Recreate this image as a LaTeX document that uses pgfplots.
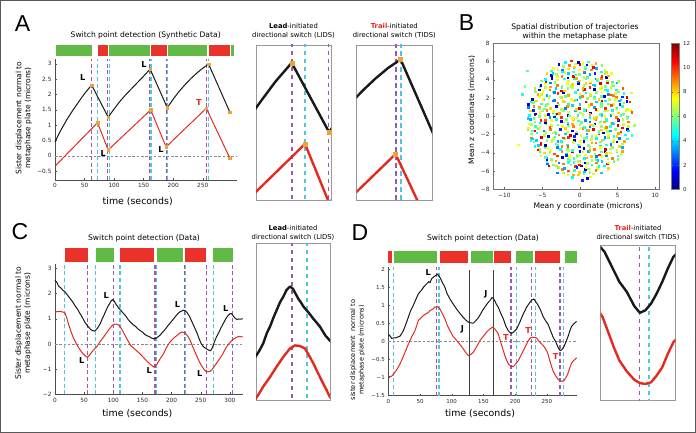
\documentclass[border=0pt]{standalone}
\usepackage{fontspec}
\setmainfont{DejaVu Sans}
\newfontfamily\letterfont{Liberation Sans}
\usepackage{pgfplots}
\usepackage{pgfplotstable}
\pgfplotsset{compat=1.18}
\pgfkeys{/pgf/number format/assume math mode=true}

\definecolor{barG}{RGB}{98,186,70}
\definecolor{barR}{RGB}{234,50,42}
\definecolor{lnR}{RGB}{228,42,32}
\definecolor{lnK}{RGB}{25,25,25}
\definecolor{dPur}{RGB}{150,92,170}
\definecolor{dCya}{RGB}{86,196,216}
\definecolor{mOra}{RGB}{242,162,52}

\newcommand{\fs}[1]{\fontsize{#1}{#1}\selectfont}
\newcommand{\vmark}[4]{\addplot[#1] coordinates {(#2,#3) (#2,#4)};}
\newcommand{\band}[5]{\fill[#1] (axis cs:#2,#4) rectangle (axis cs:#3,#5);}

\pgfplotsset{
  mainax/.style={scale only axis, anchor=south west, axis lines*=left, clip=false,
    axis line style={black!70, line width=0.45pt},
    tick align=inside, major tick length=2pt, tick style={black!70, line width=0.4pt},
    tick label style={font=\fs{5.8}, text=black!85}},
  zoomax/.style={scale only axis, anchor=south west, clip=true, ticks=none,
    axis line style={black!40, line width=0.6pt}},
  dsh/.style={line width=1.1pt, dash pattern=on 4pt off 2.6pt, mark=none},
  zdsh/.style={line width=1.9pt, dash pattern=on 4.6pt off 3.4pt, mark=none},
  thinK/.style={lnK, line width=1pt, mark=none},
  thinR/.style={lnR, line width=1pt, mark=none},
  thickK/.style={lnK, line width=2.4pt, mark=none, line join=round},
  thickR/.style={lnR, line width=2.4pt, mark=none, line join=round},
  zero/.style={black!45, line width=0.5pt, dash pattern=on 2.5pt off 1.8pt, mark=none},
  omk/.style={only marks, mark=square*, mark size=1.3pt, mark options={draw=mOra, fill=mOra}},
}

% panel A, synthetic sisters
\pgfplotstableread{
x y
0 0.46
10 0.84
20 1.18
30 1.48
40 1.76
50 2.03
62 2.31
90 1.26
100 1.53
110 1.78
120 2.0
130 2.2
140 2.4
150 2.6
161 2.83
190 1.57
200 1.85
210 2.1
220 2.32
230 2.52
240 2.7
250 2.86
260 2.99
296 1.42
}\Ablack
\pgfplotstableread{
x y
0 -0.34
72 1.08
90 0.19
162 1.5
188 0.29
256 1.55
296 -0.08
}\Ared
\pgfplotstableread{
x y
62 2.31
90 1.26
161 2.83
190 1.57
260 2.99
296 1.42
72 1.08
90 0.19
162 1.5
188 0.29
256 1.55
296 -0.08
}\Amarks

% panel C, data
\pgfplotstableread{
x y
0 2.53
3 2.45
6 2.3
10 2.22
14 2.12
17 2.07
21 1.95
26 1.8
30 1.68
34 1.53
38 1.4
43 1.2
47 1.05
51 0.87
55 0.74
60 0.6
64 0.53
68 0.51
72 0.6
75 0.7
78 0.82
81 1.0
83.3 1.1
86 1.25
88.4 1.37
91 1.5
93.5 1.59
96 1.7
98.7 1.76
101 1.72
103 1.64
105 1.56
107 1.5
109 1.43
111 1.38
113 1.33
116.6 1.23
119 1.17
121.7 1.1
124 1.02
126 0.95
129.4 0.87
134 0.76
138 0.7
142 0.6
146 0.53
150 0.47
154 0.38
157 0.33
161 0.3
165 0.24
169 0.2
172 0.22
175 0.25
179 0.32
183 0.42
188 0.55
194 0.73
200 0.9
206 1.07
210 1.18
214 1.27
217 1.3
220 1.34
223 1.32
226 1.26
230 1.12
234 0.93
238 0.72
243 0.47
247 0.22
251 0.0
255 -0.12
260 -0.2
264 -0.25
267 -0.27
270 -0.15
273 0.05
277 0.28
281 0.45
285 0.65
289 0.82
293 1.0
297 1.13
300 1.2
303 1.2
306 1.1
309 1.02
312 0.97
315 0.99
318 0.98
322 1.0
}\Cblack
\pgfplotstableread{
x y
0 1.27
4 1.28
8.6 1.29
13 1.27
17 1.23
20 1.05
23 0.8
27 0.52
31 0.27
35 0.08
40 -0.13
44 -0.27
48.6 -0.4
52 -0.48
55.5 -0.53
59 -0.45
63 -0.33
67 -0.22
71.5 -0.11
75 0.0
78 0.11
83.3 0.27
88.4 0.44
93.5 0.6
98.7 0.74
102.5 0.79
106.3 0.78
110.2 0.74
114 0.6
117 0.48
119.2 0.38
122 0.26
124.3 0.16
127 0.05
129.4 -0.06
134 -0.15
140 -0.27
146 -0.4
151 -0.52
157 -0.67
163 -0.8
169 -0.91
172 -0.88
175 -0.8
180 -0.6
186 -0.4
191 -0.15
197 0.07
203 0.22
209 0.33
214 0.43
218 0.47
223 0.44
228 0.3
232 0.13
237 -0.15
243 -0.47
247 -0.68
251.5 -0.87
256 -1.02
260 -1.11
266 -1.09
270 -1.0
274 -0.87
280 -0.67
286 -0.47
290 -0.3
294 -0.13
298 0.0
303 0.13
307 0.2
312 0.27
317 0.3
322 0.27
}\Cred

% panel D, data
\pgfplotstableread{
x y
0 0.21
3 0.15
5.3 0.09
8 0.1
10.5 0.1
14 0.12
18.4 0.15
21 0.22
23.7 0.3
27 0.45
31.5 0.67
35 0.85
39.4 1.0
43 1.15
47.3 1.32
50 1.38
52.6 1.43
56 1.52
60.4 1.6
64 1.66
66 1.64
68.3 1.74
72 1.8
75 1.84
77.3 1.87
79 1.84
81.5 1.78
85 1.65
89.4 1.5
93 1.32
97.3 1.18
102 1.05
107.8 0.9
113 0.78
118.3 0.67
122 0.6
126.2 0.54
130 0.52
134 0.51
138 0.58
142 0.66
146 0.78
150 0.9
154 1.0
157.7 1.09
161 1.15
163.5 1.22
165.6 1.2
168 1.13
170 1.05
173.5 0.95
177 0.8
181.4 0.63
185 0.45
189.3 0.3
192 0.25
194.5 0.23
198 0.27
202.4 0.35
207 0.52
213 0.77
218 0.95
223.4 1.09
226 1.15
229.8 1.18
232 1.12
236.6 1.0
240 0.88
244 0.7
248 0.58
252 0.48
256 0.3
260 0.12
264 0.0
268 -0.17
271 -0.25
274 -0.22
277 -0.14
280 -0.02
283 0.12
286 0.28
289 0.42
293 0.5
297 0.56
}\Dblack
\pgfplotstableread{
x y
0 -0.97
3 -0.97
5.3 -0.96
8 -0.9
10.5 -0.85
14 -0.76
18.4 -0.62
22 -0.48
26.3 -0.3
30 -0.14
34.2 0.03
38 0.17
42 0.3
45 0.45
47.3 0.58
51 0.65
55.2 0.72
60 0.78
63 0.8
65.7 0.86
70 0.9
73 0.95
76.2 0.97
79 0.95
81.5 0.9
85 0.78
89.4 0.63
93 0.45
97.3 0.3
102 0.15
107.8 0.03
113 -0.08
118.3 -0.2
122 -0.3
126.2 -0.39
130 -0.36
134 -0.3
139 -0.15
144.6 0.03
150 0.15
155 0.26
160 0.35
164.6 0.4
168 0.35
171 0.28
173.5 0.21
177 0.0
181.4 -0.25
185 -0.45
189.3 -0.62
193 -0.68
197.2 -0.69
201 -0.62
205 -0.53
210 -0.35
215.6 -0.16
220 0.0
223 0.08
226 0.12
230 0.12
234 0.1
238 0.0
241 -0.05
244 -0.1
248 -0.2
251 -0.3
254 -0.48
257 -0.66
260 -0.82
264 -0.95
268 -1.05
271 -1.09
274 -1.1
277 -1.08
280 -1.0
283 -0.9
286 -0.74
289 -0.6
292 -0.53
297 -0.45
}\Dred

\begin{document}
\begin{tikzpicture}
\path[use as bounding box] (0,0) rectangle (696pt,433pt);
\draw[black!65, line width=1.4pt] (0.7pt,0.7pt) rectangle (695.3pt,432.3pt);

% ---------------- A main
\begin{axis}[mainax, at={(55pt,253pt)}, width=182pt, height=120.7pt,
  xmin=0, xmax=308, ymin=-0.79, ymax=3.15,
  xtick={0,50,...,250}, ytick={-0.5,0,...,3},
  yticklabels={−0.5,0,0.5,1,1.5,2,2.5,3}]
\band{barG}{1}{62}{3.26}{3.62}
\band{barR}{72}{90}{3.26}{3.62}
\band{barG}{92}{161}{3.26}{3.62}
\band{barR}{163}{189}{3.26}{3.62}
\band{barG}{191}{257.5}{3.26}{3.62}
\band{barR}{260}{296}{3.26}{3.62}
\band{barG}{298}{303}{3.26}{3.62}
\addplot[zero] coordinates {(0,0) (308,0)};
\vmark{dsh,dPur}{62}{-0.79}{3.15}
\vmark{dsh,dCya}{72}{-0.79}{3.15}
\vmark{dsh,dPur}{89}{-0.79}{3.15}
\vmark{dsh,dCya}{91.5}{-0.79}{3.15}
\vmark{dsh,dPur}{160}{-0.79}{3.15}
\vmark{dsh,dCya}{162.5}{-0.79}{3.15}
\vmark{dsh,dPur}{188}{-0.79}{3.15}
\vmark{dsh,dCya}{190.5}{-0.79}{3.15}
\vmark{dsh,dPur}{256}{-0.79}{3.15}
\vmark{dsh,dCya}{260}{-0.79}{3.15}
\addplot[thinK] table[x=x,y=y] {\Ablack};
\addplot[thinR] table[x=x,y=y] {\Ared};
\addplot[omk] table[x=x,y=y] {\Amarks};
\node[font=\bfseries\fs{8.2}] at (axis cs:46.8,2.55) {L};
\node[font=\bfseries\fs{8.2}] at (axis cs:81.8,0.08) {L};
\node[font=\bfseries\fs{8.2}] at (axis cs:150.6,2.99) {L};
\node[font=\bfseries\fs{8.2}] at (axis cs:179.4,0.22) {L};
\node[font=\bfseries\fs{8.2}, text=lnR] at (axis cs:243.7,1.73) {T};
\end{axis}

% A, LIDS zoom
\begin{axis}[zoomax, at={(256pt,233pt)}, width=75pt, height=155pt,
  xmin=35.2, xmax=91.5, ymin=0.23, ymax=2.58]
\vmark{zdsh,dPur}{62}{0}{3}
\vmark{zdsh,dCya}{72}{0}{3}
\vmark{zdsh,dPur}{89.6}{0}{3}
\addplot[thickK] table[x=x,y=y] {\Ablack};
\addplot[thickR] table[x=x,y=y] {\Ared};
\addplot[omk, mark size=2pt] table[x=x,y=y] {\Amarks};
\end{axis}

% A, TIDS zoom
\begin{axis}[zoomax, at={(356.7pt,233pt)}, width=75.3pt, height=155pt,
  xmin=225, xmax=285, ymin=0.85, ymax=3.21]
\vmark{zdsh,dPur}{256}{0}{4}
\vmark{zdsh,dCya}{260}{0}{4}
\addplot[thickK] table[x=x,y=y] {\Ablack};
\addplot[thickR] table[x=x,y=y] {\Ared};
\addplot[omk, mark size=2pt] table[x=x,y=y] {\Amarks};
\end{axis}

% ---------------- B scatter
\begin{axis}[scale only axis, anchor=south west, at={(493pt,243.7pt)},
  width=166pt, height=146pt,
  xmin=-11.5, xmax=10.5, ymin=-8, ymax=8,
  xtick={-10,-5,0,5,10}, xticklabels={−10,−5,0,5,10},
  ytick={-8,-6,...,8}, yticklabels={−8,−6,−4,−2,0,2,4,6,8},
  tick align=inside, major tick length=2pt, xtick pos=bottom, ytick pos=left,
  axis line style={black!55, line width=0.5pt}, tick style={black!60},
  tick label style={font=\fs{5.8}, text=black!85},
  colormap/jet, point meta min=0, point meta max=12,
  colorbar,
  colorbar style={at={(parent axis.north east)}, anchor=north west, xshift=4pt,
    width=8pt, ytick={0,2,...,12}, major tick length=1.5pt,
    yticklabel style={font=\fs{5.5}, text=black!85},
    axis line style={black!50}}]
\addplot[scatter, only marks, mark=square*, mark size=0.8pt, point meta=explicit,
  scatter/use mapped color={draw=mapped color, fill=mapped color}] coordinates {
(-1.6,-6.4)[7] (-1.0,-6.7)[4.5] (-0.2,-6.4)[8] (0.5,-6.3)[5.5] (1.4,-6.6)[7.5]
(-3.0,-6.2)[3] (-2.3,-5.8)[9] (-1.6,-6.0)[6] (-0.7,-5.9)[5] (-0.1,-6.1)[8] (0.7,-5.8)[1] (1.3,-6.1)[6.5] (2.1,-5.9)[9] (2.8,-6.2)[4]
(-4.1,-5.4)[11] (-3.5,-5.3)[6] (-2.8,-5.6)[7] (-2.1,-5.7)[3.5] (-1.2,-5.3)[6] (-0.6,-5.5)[10] (0.2,-5.4)[0.5] (0.8,-5.6)[7.5] (1.6,-5.3)[5] (2.3,-5.6)[7] (3.2,-5.4)[4.5] (3.8,-5.7)[8]
(-4.4,-4.9)[5.5] (-3.7,-4.8)[7.5] (-2.8,-5.1)[3] (-2.2,-5.2)[9] (-1.4,-4.8)[6] (-0.8,-5.0)[5] (0.0,-4.9)[8] (0.7,-5.1)[1] (1.6,-4.8)[6.5] (2.2,-5.1)[9] (2.9,-4.9)[4] (3.6,-5.2)[11] (4.5,-4.9)[6]
(-5.2,-4.3)[7] (-4.4,-4.6)[3.5] (-3.8,-4.7)[6] (-3.0,-4.3)[10] (-2.3,-4.5)[0.5] (-1.4,-4.4)[7.5] (-0.8,-4.6)[5] (-0.1,-4.3)[7] (0.6,-4.6)[4.5] (1.5,-4.4)[8] (2.1,-4.7)[5.5] (2.9,-4.4)[7.5] (3.5,-4.3)[3] (4.3,-4.6)[9] (5.0,-4.7)[6]
(-5.3,-3.8)[5] (-4.7,-4.0)[8] (-4.0,-3.9)[1] (-3.3,-4.1)[6.5] (-2.4,-3.8)[9] (-1.8,-4.1)[4] (-1.0,-3.9)[11] (-0.4,-4.2)[6] (0.4,-3.9)[7] (1.1,-3.8)[3.5] (2.0,-4.1)[6] (2.6,-4.2)[10] (3.3,-3.8)[0.5] (4.0,-4.0)[7.5] (4.9,-3.9)[5] (5.5,-4.1)[7]
(-6.0,-3.3)[4.5] (-5.4,-3.6)[8] (-4.6,-3.4)[5.5] (-3.9,-3.7)[7.5] (-3.0,-3.4)[3] (-2.4,-3.3)[9] (-1.7,-3.6)[6] (-1.0,-3.7)[5] (-0.1,-3.3)[8] (0.5,-3.5)[1] (1.3,-3.4)[6.5] (1.9,-3.6)[9] (2.7,-3.3)[4] (3.4,-3.6)[11] (4.3,-3.4)[6] (4.9,-3.7)[7] (5.6,-3.4)[3.5]
(-6.1,-2.8)[6] (-5.2,-3.1)[10] (-4.6,-3.2)[0.5] (-3.8,-2.8)[7.5] (-3.2,-3.0)[5] (-2.4,-2.9)[7] (-1.7,-3.1)[4.5] (-0.8,-2.8)[8] (-0.2,-3.1)[5.5] (0.5,-2.9)[7.5] (1.2,-3.2)[3] (2.1,-2.9)[9] (2.7,-2.8)[6] (3.5,-3.1)[5] (4.1,-3.2)[8] (4.9,-2.8)[1] (5.6,-3.0)[6.5]
(-6.4,-2.4)[9] (-5.8,-2.6)[4] (-5.1,-2.3)[11] (-4.4,-2.6)[6] (-3.5,-2.4)[7] (-2.9,-2.7)[3.5] (-2.1,-2.4)[6] (-1.5,-2.3)[10] (-0.7,-2.6)[0.5] (0.0,-2.7)[7.5] (0.9,-2.3)[5] (1.5,-2.5)[7] (2.2,-2.4)[4.5] (2.9,-2.6)[8] (3.8,-2.3)[5.5] (4.4,-2.6)[7.5] (5.2,-2.4)[3] (5.8,-2.7)[9]
(-6.4,-1.9)[6] (-5.7,-1.8)[5] (-4.8,-2.1)[8] (-4.2,-2.2)[1] (-3.5,-1.8)[6.5] (-2.8,-2.0)[9] (-1.9,-1.9)[4] (-1.3,-2.1)[11] (-0.5,-1.8)[6] (0.1,-2.1)[7] (0.9,-1.9)[3.5] (1.6,-2.2)[6] (2.5,-1.9)[10] (3.1,-1.8)[0.5] (3.8,-2.1)[7.5] (4.5,-2.2)[5] (5.4,-1.8)[7] (6.0,-2.0)[4.5]
(-6.9,-1.4)[8] (-6.3,-1.6)[5.5] (-5.5,-1.3)[7.5] (-4.8,-1.6)[3] (-3.9,-1.4)[9] (-3.3,-1.7)[6] (-2.6,-1.4)[5] (-1.9,-1.3)[8] (-1.0,-1.6)[1] (-0.4,-1.7)[6.5] (0.4,-1.3)[9] (1.0,-1.5)[4] (1.8,-1.4)[11] (2.5,-1.6)[6] (3.4,-1.3)[7] (4.0,-1.6)[3.5] (4.7,-1.4)[6] (5.4,-1.7)[10] (6.3,-1.4)[0.5]
(-6.7,-0.8)[7.5] (-5.9,-1.1)[5] (-5.3,-1.2)[7] (-4.5,-0.8)[4.5] (-3.8,-1.0)[8] (-2.9,-0.9)[5.5] (-2.3,-1.1)[7.5] (-1.6,-0.8)[3] (-0.9,-1.1)[9] (0.0,-0.9)[6] (0.6,-1.2)[5] (1.4,-0.9)[8] (2.0,-0.8)[1] (2.8,-1.1)[6.5] (3.5,-1.2)[9] (4.4,-0.8)[4] (5.0,-1.0)[11] (5.7,-0.9)[6] (6.4,-1.1)[7]
(-6.6,-0.3)[3.5] (-6.0,-0.6)[6] (-5.2,-0.4)[10] (-4.6,-0.7)[0.5] (-3.8,-0.4)[7.5] (-3.1,-0.3)[5] (-2.2,-0.6)[7] (-1.6,-0.7)[4.5] (-0.9,-0.3)[8] (-0.2,-0.5)[5.5] (0.7,-0.4)[7.5] (1.3,-0.6)[3] (2.1,-0.3)[9] (2.7,-0.6)[6] (3.5,-0.4)[5] (4.2,-0.7)[8] (5.1,-0.4)[1] (5.7,-0.3)[6.5] (6.4,-0.6)[9]
(-6.9,-0.2)[4] (-6.0,0.2)[11] (-5.4,0.0)[6] (-4.6,0.1)[7] (-4.0,-0.1)[3.5] (-3.2,0.2)[6] (-2.5,-0.1)[10] (-1.6,0.1)[0.5] (-1.0,-0.2)[7.5] (-0.3,0.1)[5] (0.4,0.2)[7] (1.3,-0.1)[4.5] (1.9,-0.2)[8] (2.7,0.2)[5.5] (3.3,0.0)[7.5] (4.1,0.1)[3] (4.8,-0.1)[9] (5.7,0.2)[6] (6.3,-0.1)[5]
(-6.6,0.6)[8] (-5.9,0.3)[1] (-5.0,0.6)[6.5] (-4.4,0.7)[9] (-3.6,0.4)[4] (-3.0,0.3)[11] (-2.2,0.7)[6] (-1.5,0.5)[7] (-0.6,0.6)[3.5] (0.0,0.4)[6] (0.7,0.7)[10] (1.4,0.4)[0.5] (2.3,0.6)[7.5] (2.9,0.3)[5] (3.7,0.6)[7] (4.3,0.7)[4.5] (5.1,0.4)[8] (5.8,0.3)[5.5] (6.7,0.7)[7.5]
(-6.8,1.0)[3] (-6.1,1.1)[9] (-5.4,0.9)[6] (-4.5,1.2)[5] (-3.9,0.9)[8] (-3.1,1.1)[1] (-2.5,0.8)[6.5] (-1.7,1.1)[9] (-1.0,1.2)[4] (-0.1,0.9)[11] (0.5,0.8)[6] (1.2,1.2)[7] (1.9,1.0)[3.5] (2.8,1.1)[6] (3.4,0.9)[10] (4.2,1.2)[0.5] (4.8,0.9)[7.5] (5.6,1.1)[5] (6.3,0.8)[7]
(-6.4,1.6)[4.5] (-5.8,1.7)[8] (-5.1,1.4)[5.5] (-4.4,1.3)[7.5] (-3.5,1.7)[3] (-2.9,1.5)[9] (-2.1,1.6)[6] (-1.5,1.4)[5] (-0.7,1.7)[8] (0.0,1.4)[1] (0.9,1.6)[6.5] (1.5,1.3)[9] (2.2,1.6)[4] (2.9,1.7)[11] (3.8,1.4)[6] (4.4,1.3)[7] (5.2,1.7)[3.5] (5.8,1.5)[6] (6.6,1.6)[10]
(-6.3,1.9)[0.5] (-5.4,2.2)[7.5] (-4.8,1.9)[5] (-4.1,2.1)[7] (-3.4,1.8)[4.5] (-2.5,2.1)[8] (-1.9,2.2)[5.5] (-1.1,1.9)[7.5] (-0.5,1.8)[3] (0.3,2.2)[9] (1.0,2.0)[6] (1.9,2.1)[5] (2.5,1.9)[8] (3.2,2.2)[1] (3.9,1.9)[6.5] (4.8,2.1)[9] (5.4,1.8)[4] (6.2,2.1)[11]
(-5.9,2.7)[6] (-5.1,2.4)[7] (-4.4,2.3)[3.5] (-3.5,2.7)[6] (-2.9,2.5)[10] (-2.2,2.6)[0.5] (-1.5,2.4)[7.5] (-0.6,2.7)[5] (0.0,2.4)[7] (0.8,2.6)[4.5] (1.4,2.3)[8] (2.2,2.6)[5.5] (2.9,2.7)[7.5] (3.8,2.4)[3] (4.4,2.3)[9] (5.1,2.7)[6] (5.8,2.5)[5]
(-6.0,3.1)[8] (-5.4,2.9)[1] (-4.6,3.2)[6.5] (-4.0,2.9)[9] (-3.2,3.1)[4] (-2.5,2.8)[11] (-1.6,3.1)[6] (-1.0,3.2)[7] (-0.3,2.9)[3.5] (0.4,2.8)[6] (1.3,3.2)[10] (1.9,3.0)[0.5] (2.7,3.1)[7.5] (3.3,2.9)[5] (4.1,3.2)[7] (4.8,2.9)[4.5] (5.7,3.1)[8]
(-5.3,3.3)[5.5] (-4.6,3.6)[7.5] (-3.9,3.7)[3] (-3.0,3.4)[9] (-2.4,3.3)[6] (-1.6,3.7)[5] (-1.0,3.5)[8] (-0.2,3.6)[1] (0.5,3.4)[6.5] (1.4,3.7)[9] (2.0,3.4)[4] (2.7,3.6)[11] (3.4,3.3)[6] (4.3,3.6)[7] (4.9,3.7)[3.5]
(-5.1,3.9)[6] (-4.5,3.8)[10] (-3.7,4.2)[0.5] (-3.0,4.0)[7.5] (-2.1,4.1)[5] (-1.5,3.9)[7] (-0.8,4.2)[4.5] (-0.1,3.9)[8] (0.8,4.1)[5.5] (1.4,3.8)[7.5] (2.2,4.1)[3] (2.8,4.2)[9] (3.6,3.9)[6] (4.3,3.8)[5]
(-4.4,4.7)[8] (-3.8,4.5)[1] (-3.1,4.6)[6.5] (-2.4,4.4)[9] (-1.5,4.7)[4] (-0.9,4.4)[11] (-0.1,4.6)[6] (0.5,4.3)[7] (1.3,4.6)[3.5] (2.0,4.7)[6] (2.9,4.4)[10] (3.5,4.3)[0.5] (4.2,4.7)[7.5]
(-3.8,5.0)[5] (-2.9,5.1)[7] (-2.3,4.9)[4.5] (-1.5,5.2)[8] (-0.9,4.9)[5.5] (-0.1,5.1)[7.5] (0.6,4.8)[3] (1.5,5.1)[9] (2.1,5.2)[6] (2.8,4.9)[5] (3.5,4.8)[8]
(-2.8,5.7)[1] (-2.2,5.5)[6.5] (-1.4,5.6)[9] (-0.8,5.4)[4] (0.0,5.7)[11] (0.7,5.4)[6] (1.6,5.6)[7] (2.2,5.3)[3.5] (2.9,5.6)[6]
(-1.1,6.1)[10] (-0.2,5.9)[0.5] (0.4,5.8)[7.5] (1.1,6.0)[5]
(-8.2,-3.1)[7.5] (-7.3,3.3)[6] (-7.6,2.4)[5] (-7.0,5.0)[5.5] (6.9,-2.1)[5] (7.2,-1.0)[6.5] (1.0,-6.8)[1] (0.3,-7.0)[2] (6.8,2.6)[7]
(-2.2,-6.2)[6.5] (-0.9,-6.4)[8.5] (0.6,-6.05)[4] (1.8,-6.3)[7]
(-2.9,-5.65)[5.5] (-1.5,-5.95)[9.5] (-0.4,-5.6)[2] (1.1,-5.75)[6] (2.4,-5.85)[7.5]
(-4.3,-5.2)[3] (-3.1,-5.4)[8] (-1.5,-5.05)[5] (-0.1,-5.3)[10.5] (1.0,-5.15)[6.5] (2.5,-5.45)[4.5] (3.8,-5.1)[7]
(-4.4,-4.75)[1.5] (-3.2,-4.85)[8.5] (-1.6,-4.7)[5.5] (-0.2,-4.9)[6.5] (0.9,-4.55)[8.5] (2.4,-4.8)[4] (3.7,-4.65)[7]
(-4.6,-4.45)[5.5] (-3.4,-4.1)[9.5] (-1.8,-4.25)[2] (-0.4,-4.35)[6] (0.7,-4.2)[7.5] (2.2,-4.4)[3] (3.5,-4.05)[8] (5.0,-4.3)[5]
(-5.6,-3.65)[10.5] (-4.0,-3.95)[6.5] (-2.6,-3.6)[4.5] (-1.5,-3.75)[7] (0.0,-3.85)[1.5] (1.3,-3.7)[8.5] (2.8,-3.9)[5.5] (4.0,-3.55)[6.5] (5.6,-3.8)[8.5]
(-5.5,-3.15)[4] (-4.4,-3.45)[7] (-2.9,-3.1)[5.5] (-1.6,-3.25)[9.5] (-0.1,-3.35)[2] (1.1,-3.2)[6] (2.7,-3.4)[7.5] (4.1,-3.05)[3] (5.2,-3.3)[8]
(-6.5,-2.65)[5] (-5.2,-2.95)[10.5] (-3.7,-2.6)[6.5] (-2.5,-2.75)[4.5] (-0.9,-2.85)[7] (0.5,-2.7)[1.5] (1.6,-2.9)[8.5] (3.1,-2.55)[5.5] (4.4,-2.8)[6.5] (5.9,-2.7)[8.5]
(-6.3,-2.45)[4] (-4.7,-2.1)[7] (-3.3,-2.25)[5.5] (-2.2,-2.35)[9.5] (-0.7,-2.2)[2] (0.6,-2.4)[6] (2.1,-2.05)[7.5] (3.3,-2.3)[3] (4.9,-2.2)[8] (6.3,-2.45)[5]
(-6.0,-1.6)[10.5] (-4.5,-1.75)[6.5] (-3.2,-1.85)[4.5] (-1.7,-1.7)[7] (-0.5,-1.9)[1.5] (1.1,-1.55)[8.5] (2.5,-1.8)[5.5] (3.6,-1.65)[6.5] (5.1,-1.85)[8.5] (6.4,-1.6)[4]
(-6.8,-1.25)[7] (-5.6,-1.35)[5.5] (-4.0,-1.2)[9.5] (-2.6,-1.4)[2] (-1.5,-1.05)[6] (0.0,-1.3)[7.5] (1.3,-1.15)[3] (2.8,-1.45)[8] (4.0,-1.1)[5] (5.6,-1.25)[10.5]
(-6.4,-0.85)[6.5] (-5.3,-0.7)[4.5] (-3.8,-0.9)[7] (-2.5,-0.55)[1.5] (-1.0,-0.8)[8.5] (0.2,-0.65)[5.5] (1.8,-0.95)[6.5] (3.2,-0.6)[8.5] (4.3,-0.75)[4] (5.8,-0.85)[7]
(-6.1,-0.2)[5.5] (-4.6,-0.4)[9.5] (-3.4,-0.05)[2] (-1.8,-0.3)[6] (-0.4,-0.15)[7.5] (0.7,-0.45)[3] (2.2,-0.1)[8] (3.5,-0.25)[5] (5.0,-0.35)[10.5] (6.2,-0.2)[6.5]
(-6.7,0.1)[4.5] (-5.3,0.45)[7] (-4.2,0.2)[1.5] (-2.7,0.35)[8.5] (-1.4,0.05)[5.5] (0.1,0.4)[6.5] (1.3,0.25)[8.5] (2.9,0.15)[4] (4.3,0.3)[7] (5.4,0.1)[5.5] (6.9,0.45)[9.5]
(-6.2,0.7)[2] (-4.7,0.85)[6] (-3.5,0.55)[7.5] (-1.9,0.9)[3] (-0.5,0.75)[8] (0.6,0.65)[5] (2.1,0.8)[10.5] (3.4,0.6)[6.5] (4.9,0.95)[4.5] (6.1,0.7)[7]
(-6.8,1.35)[1.5] (-5.4,1.05)[8.5] (-4.3,1.4)[5.5] (-2.8,1.25)[6.5] (-1.5,1.15)[8.5] (0.0,1.3)[4] (1.2,1.1)[7] (2.8,1.45)[5.5] (4.2,1.2)[9.5] (5.3,1.35)[2]
(-6.2,1.55)[6] (-4.9,1.9)[7.5] (-3.4,1.75)[3] (-2.2,1.65)[8] (-0.6,1.8)[5] (0.8,1.6)[10.5] (1.9,1.95)[6.5] (3.4,1.7)[4.5] (4.7,1.85)[7] (6.2,1.65)[1.5]
(-5.6,2.4)[8.5] (-4.0,2.25)[5.5] (-2.6,2.15)[6.5] (-1.5,2.3)[8.5] (0.0,2.1)[4] (1.3,2.45)[7] (2.8,2.2)[5.5] (4.0,2.35)[9.5] (5.6,2.15)[2]
(-6.0,2.9)[6] (-4.9,2.75)[7.5] (-3.4,2.65)[3] (-2.1,2.8)[8] (-0.6,2.6)[5] (0.6,2.95)[10.5] (2.2,2.7)[6.5] (3.6,2.85)[4.5] (4.7,2.55)[7]
(-5.2,3.4)[1.5] (-3.9,3.25)[8.5] (-2.4,3.15)[5.5] (-1.2,3.3)[6.5] (0.4,3.1)[8.5] (1.8,3.45)[4] (2.9,3.2)[7] (4.4,3.35)[5.5] (5.7,3.05)[9.5]
(-4.5,3.9)[2] (-3.3,3.75)[6] (-1.7,3.65)[7.5] (-0.3,3.8)[3] (0.8,3.6)[8] (2.3,3.95)[5] (3.6,3.7)[10.5] (5.1,3.85)[6.5]
(-4.6,4.05)[4.5] (-3.0,4.4)[7] (-1.6,4.25)[1.5] (-0.5,4.15)[8.5] (1.0,4.3)[5.5] (2.3,4.1)[6.5] (3.8,4.45)[8.5]
(-3.6,4.7)[4] (-2.0,4.85)[7] (-0.6,4.55)[5.5] (0.5,4.9)[9.5] (2.0,4.75)[2] (3.3,4.65)[6]
(-3.5,5.3)[7.5] (-2.3,5.1)[3] (-0.7,5.45)[8] (0.7,5.2)[5] (1.8,5.35)[10.5] (3.3,5.05)[6.5]
(-1.9,5.9)[4.5] (-0.6,5.75)[7] (0.9,5.65)[1.5] (2.1,5.8)[8.5]
};
\end{axis}

% ---------------- C main
\begin{axis}[mainax, at={(55pt,38.7pt)}, width=187.7pt, height=130pt,
  xmin=0, xmax=322, ymin=-2, ymax=3.16,
  xtick={0,50,...,300}, ytick={-2,-1,...,3},
  yticklabels={−2,−1,0,1,2,3}]
\band{barR}{17}{57}{3.25}{3.79}
\band{barG}{70}{101}{3.25}{3.79}
\band{barR}{111.5}{170}{3.25}{3.79}
\band{barG}{175.5}{220}{3.25}{3.79}
\band{barR}{223.5}{259}{3.25}{3.79}
\band{barG}{271.5}{304.8}{3.25}{3.79}
\addplot[zero] coordinates {(0,0) (322,0)};
\vmark{dsh,dCya}{17}{-2}{3.16}
\vmark{dsh,dPur}{56}{-2}{3.16}
\vmark{dsh,dCya}{70}{-2}{3.16}
\vmark{dsh,dPur}{100}{-2}{3.16}
\vmark{dsh,dCya}{111.5}{-2}{3.16}
\vmark{dsh,dPur}{171.5}{-2}{3.16}
\vmark{dsh,dCya}{174.4}{-2}{3.16}
\vmark{dsh,dPur}{221.5}{-2}{3.16}
\vmark{dsh,dCya}{223.5}{-2}{3.16}
\vmark{dsh,dPur}{260}{-2}{3.16}
\vmark{dsh,dCya}{271.5}{-2}{3.16}
\vmark{dsh,dPur}{304}{-2}{3.16}
\addplot[thinK] table[x=x,y=y] {\Cblack};
\addplot[thinR] table[x=x,y=y] {\Cred};
\node[font=\bfseries\fs{8.2}] at (axis cs:88,1.92) {L};
\node[font=\bfseries\fs{8.2}] at (axis cs:45.8,-0.67) {L};
\node[font=\bfseries\fs{8.2}] at (axis cs:161.7,-1.07) {L};
\node[font=\bfseries\fs{8.2}] at (axis cs:210,1.55) {L};
\node[font=\bfseries\fs{8.2}] at (axis cs:248.5,-1.18) {L};
\node[font=\bfseries\fs{8.2}] at (axis cs:293,1.41) {L};
\end{axis}

% C, LIDS zoom
\begin{axis}[zoomax, at={(256pt,32.3pt)}, width=74pt, height=157.4pt,
  xmin=72.5, xmax=129.5, ymin=-0.12, ymax=2.47]
\vmark{zdsh,dPur}{100}{-1}{3}
\vmark{zdsh,dCya}{111.5}{-1}{3}
\addplot[thickK] table[x=x,y=y] {\Cblack};
\addplot[thickR] table[x=x,y=y] {\Cred};
\end{axis}

% ---------------- D main
\begin{axis}[mainax, at={(388.3pt,37.3pt)}, width=188.3pt, height=128.4pt,
  xmin=0, xmax=297, ymin=-1.5, ymax=2.06,
  xtick={0,50,...,250}, ytick={-1.5,-1,...,2},
  yticklabels={−1.5,−1,−0.5,0,0.5,1,1.5,2},
  tick label style={font=\fs{5.5}}]
\band{barR}{0}{5.3}{2.166}{2.515}
\band{barG}{9}{77.3}{2.166}{2.515}
\band{barR}{81.5}{126.2}{2.166}{2.515}
\band{barG}{130}{165.6}{2.166}{2.515}
\band{barR}{167}{193}{2.166}{2.515}
\band{barG}{201.4}{227.6}{2.166}{2.515}
\band{barR}{231.3}{270.8}{2.166}{2.515}
\band{barG}{278.7}{297}{2.166}{2.515}
\addplot[zero] coordinates {(0,0) (297,0)};
\vmark{dsh,dCya}{7.9}{-1.5}{2.06}
\vmark{dsh,dPur}{76.2}{-1.5}{2.06}
\vmark{dsh,dCya}{80}{-1.5}{2.06}
\vmark{dsh,dPur}{193.5}{-1.5}{2.06}
\vmark{dsh,dCya}{202.4}{-1.5}{2.06}
\vmark{dsh,dPur}{226}{-1.5}{2.06}
\vmark{dsh,dCya}{232.4}{-1.5}{2.06}
\vmark{dsh,dPur}{270.8}{-1.5}{2.06}
\vmark{dsh,dCya}{276}{-1.5}{2.06}
\addplot[black!75, line width=0.9pt, mark=none] coordinates {(127.2,-1.5) (127.2,1.98)};
\addplot[black!75, line width=0.9pt, mark=none] coordinates {(165.6,-1.5) (165.6,1.98)};
\addplot[thinK] table[x=x,y=y] {\Dblack};
\addplot[thinR] table[x=x,y=y] {\Dred};
\node[font=\bfseries\fs{8.2}] at (axis cs:63,1.92) {L};
\node[font=\bfseries\fs{8.2}] at (axis cs:154,1.3) {J};
\node[font=\bfseries\fs{8.2}] at (axis cs:117,0.35) {J};
\node[font=\bfseries\fs{8.2}, text=lnR] at (axis cs:185.6,0.12) {T};
\node[font=\bfseries\fs{8.2}, text=lnR] at (axis cs:220.8,0.32) {T};
\node[font=\bfseries\fs{8.2}, text=lnR] at (axis cs:264,-0.41) {T};
\end{axis}

% D, TIDS zoom
\begin{axis}[zoomax, at={(600.7pt,32.3pt)}, width=74.6pt, height=155.7pt,
  xmin=250, xmax=290, ymin=-1.3, ymax=0.56]
\vmark{zdsh,dPur}{270.8}{-2}{1}
\vmark{zdsh,dCya}{276}{-2}{1}
\addplot[thickK] table[x=x,y=y] {\Dblack};
\addplot[thickR] table[x=x,y=y] {\Dred};
\end{axis}

% ---------------- texts
\node[font=\letterfont\fs{23}] at (22.5pt,409.7pt) {A};
\node[font=\letterfont\fs{23}] at (466.5pt,410.5pt) {B};
\node[font=\letterfont\fs{23}] at (20pt,201pt) {C};
\node[font=\letterfont\fs{23}] at (360pt,200pt) {D};

\node[font=\fs{7.6}] at (145.7pt,398pt) {Switch point detection (Synthetic Data)};
\node[font=\fs{7.6}] at (144pt,194.7pt) {Switch point detection (Data)};
\node[font=\fs{7.6}] at (483pt,194.7pt) {Switch point detection (Data)};

\node[font=\fontsize{6.8}{9}\selectfont, align=center] at (293.5pt,401.7pt) {\textbf{Lead}-initiated\\directional switch (LIDS)};
\node[font=\fontsize{6.8}{9}\selectfont, align=center] at (394.3pt,401.7pt) {\textbf{\color{lnR}Trail}-initiated\\directional switch (TIDS)};
\node[font=\fontsize{6.8}{9}\selectfont, align=center] at (293pt,200.2pt) {\textbf{Lead}-initiated\\directional switch (LIDS)};
\node[font=\fontsize{6.8}{9}\selectfont, align=center] at (638pt,200.2pt) {\textbf{\color{lnR}Trail}-initiated\\directional switch (TIDS)};

\node[font=\fontsize{7.6}{8.7}\selectfont, align=center] at (575pt,401.3pt) {Spatial distribution of trajectories\\within the metaphase plate};
\node[font=\fs{7.6}] at (588pt,227pt) {Mean y coordinate (microns)};
\node[font=\fs{7.6}, rotate=90] at (471.7pt,323pt) {Mean z coordinate (microns)};

\node[font=\fontsize{7.5}{9}\selectfont, align=center, rotate=90] at (23.8pt,315pt) {Sister displacement normal to\\metaphase plate (microns)};
\node[font=\fontsize{7.5}{9}\selectfont, align=center, rotate=90] at (23.3pt,109.7pt) {Sister displacement normal to\\metaphase plate (microns)};
\node[font=\fontsize{6.6}{8.4}\selectfont, align=center, rotate=90] at (357.5pt,83pt) {sister displacement\ \ normal to\\metaphase plate (microns)};

\node[font=\fs{9.4}] at (137.7pt,231.3pt) {time (seconds)};
\node[font=\fs{9.4}] at (137.3pt,19.7pt) {time (seconds)};
\node[font=\fs{9.4}] at (480pt,19.7pt) {time (seconds)};
\end{tikzpicture}
\end{document}
